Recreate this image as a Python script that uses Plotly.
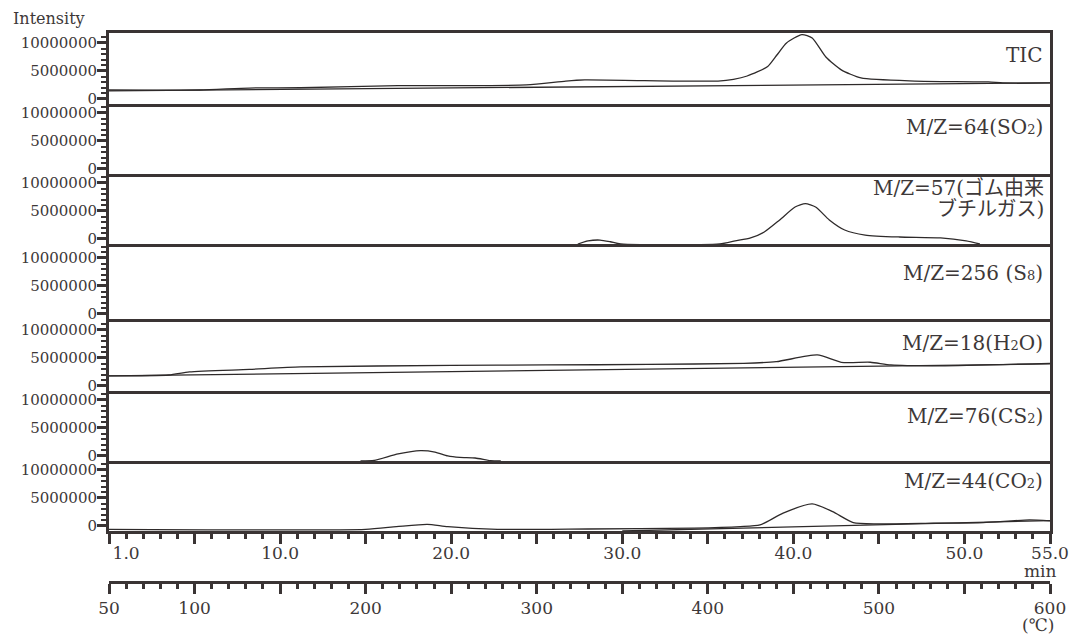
import plotly.graph_objects as go

# ---------------- data (time in min, intensity in counts) ----------------
t_tic = [0, 5.3, 8.2, 11.2, 16.9, 24.4, 26.7, 27.8, 31.3, 35.6, 36.5, 37.3, 38.5, 39.05,
         39.6, 40.5, 41.1, 41.9, 42.8, 43.95, 47.1, 51.4, 52.25, 55]
v_tic = [1.6e6, 1.6e6, 1.95e6, 2.0e6, 2.37e6, 2.5e6, 3.2e6, 3.4e6, 3.27e6, 3.2e6, 3.5e6,
         4.1e6, 5.8e6, 7.9e6, 10.0e6, 11.5e6, 10.9e6, 7.5e6, 5.2e6, 3.75e6, 3.2e6, 3.04e6,
         2.86e6, 2.86e6]
t_tic_base = [0, 55]
v_tic_base = [1.45e6, 2.86e6]

t_57 = [27.4, 28.0, 28.7, 29.3, 29.9, 35.7, 36.6, 37.5, 38.3, 39.2, 40.1, 40.7, 41.3,
        42.1, 43.0, 44.2, 46.2, 48.6, 50.1, 50.9]
v_57 = [-0.9e6, -0.35e6, -0.2e6, -0.5e6, -0.9e6, -0.9e6, -0.35e6, 0.2e6, 1.25e6, 3.4e6,
        5.7e6, 6.3e6, 5.7e6, 3.4e6, 1.6e6, 0.7e6, 0.35e6, 0.2e6, -0.35e6, -0.9e6]

t_18 = [0, 3.5, 4.7, 8.2, 11.2, 20, 25.5, 31.5, 37.1, 39.0, 41.4, 42.8, 44.5, 45.7, 48.6, 55]
v_18 = [1.79e6, 1.96e6, 2.5e6, 2.95e6, 3.4e6, 3.66e6, 3.75e6, 3.84e6, 4.05e6, 4.34e6,
        5.54e6, 4.23e6, 4.23e6, 3.75e6, 3.6e6, 4.05e6]
t_18_base = [0, 55]
v_18_base = [1.79e6, 3.93e6]

t_76 = [14.7, 15.5, 16.9, 18.2, 19.05, 19.8, 20.5, 21.4, 22.3, 22.9]
v_76 = [-0.9e6, -0.8e6, 0.36e6, 0.95e6, 0.7e6, 0.0, -0.27e6, -0.36e6, -0.84e6, -0.9e6]

t_44 = [0, 15.0, 16.8, 18.6, 19.8, 22.7, 28.0, 34.2, 36.9, 38.05, 39.4, 41.1, 42.3,
        43.5, 44.9, 48.2, 51.1, 53.8, 55]
v_44 = [-0.6e6, -0.6e6, -0.12e6, 0.3e6, -0.12e6, -0.6e6, -0.54e6, -0.4e6, -0.12e6,
        0.18e6, 2.3e6, 3.93e6, 2.55e6, 0.6e6, 0.36e6, 0.48e6, 0.6e6, 1.07e6, 0.9e6]
t_44_base = [30, 55]
v_44_base = [-0.9e6, 0.95e6]

y_tickvals = [0, 5000000, 10000000]
y_ticktext = ["0", "5000000", "10000000"]
x_major = list(range(0, 56, 5))
x_label_vals = [1, 10, 20, 30, 40, 50, 55]
x_label_text = ["1.0", "10.0", "20.0", "30.0", "40.0", "50.0", "55.0"]
temp_major = [50, 100, 150, 200, 250, 300, 350, 400, 450, 500, 550, 600]
temp_text = ["50", "100", "", "200", "", "300", "", "400", "", "500", "", "600"]

panel_labels = ["TIC", "M/Z=64(SO<span style='font-size:13px'>2</span>)", None,
                "M/Z=256 (S<span style='font-size:13px'>8</span>)",
                "M/Z=18(H<span style='font-size:13px'>2</span>O)",
                "M/Z=76(CS<span style='font-size:13px'>2</span>)",
                "M/Z=44(CO<span style='font-size:13px'>2</span>)"]

# ---------------- layout geometry ----------------
W, H = 1072, 635
PL, PR, PT, PB = 109, 1050, 33, 582
edges = [33, 104, 174, 244, 319, 391, 461, 531]
PX_PER_UNIT = 5.6 / 1e6
YMIN = -0.9e6

def fy(py):
    return (PB - py) / (PB - PT)

def fx(px):
    return (px - PL) / (PR - PL)

DARK = "#3a3434"
TXT = "#3d3838"
SERIF = "DejaVu Serif, Noto Sans CJK JP"

def ax(p):
    return "" if p == 1 else str(p)

fig = go.Figure()
line_style = dict(color="#2e2a2a", width=1.3, shape="spline", smoothing=0.6)
straight = dict(color="#2e2a2a", width=1.3)

series = [
    (1, t_tic, v_tic, True), (1, t_tic_base, v_tic_base, False),
    (3, t_57, v_57, True),
    (5, t_18, v_18, True), (5, t_18_base, v_18_base, False),
    (6, t_76, v_76, True),
    (7, t_44, v_44, True), (7, t_44_base, v_44_base, False),
]
for p, tx, vy, curved in series:
    fig.add_trace(go.Scatter(x=tx, y=vy, mode="lines",
                             line=line_style if curved else straight,
                             xaxis="x" + ax(p), yaxis="y" + ax(p),
                             showlegend=False, hoverinfo="skip"))

# invisible helper traces so that empty panels and the extra axes get drawn
for xa_name, ya_name, xs in [("x2", "y2", x_label_vals), ("x4", "y4", x_label_vals),
                             ("x8", "y7", x_label_vals), ("x9", "y7", temp_major)]:
    fig.add_trace(go.Scatter(x=xs, mode="markers", marker=dict(opacity=0, size=1),
                             xaxis=xa_name, yaxis=ya_name, showlegend=False,
                             hoverinfo="skip"))

layout = dict(width=W, height=H, autosize=False,
              margin=dict(l=PL, r=W - PR, t=PT, b=H - PB, pad=0),
              paper_bgcolor="white", plot_bgcolor="white",
              font=dict(family=SERIF, color=TXT), showlegend=False)

for i in range(1, 8):
    top, bot = edges[i - 1], edges[i]
    sfx = ax(i)
    layout["yaxis" + sfx] = dict(
        domain=[fy(bot), fy(top)], anchor="x" + sfx, automargin=False,
        range=[YMIN, YMIN + (bot - top) / PX_PER_UNIT],
        showline=True, linewidth=3, linecolor=DARK, mirror=True,
        ticks="outside", ticklen=9, tickwidth=2.5, tickcolor=DARK,
        tickvals=y_tickvals, ticktext=y_ticktext, ticklabelstandoff=-3,
        tickfont=dict(size=15, family=SERIF, color=TXT),
        minor=dict(dtick=1e6, tick0=0, ticks="outside", ticklen=5, tickwidth=2, tickcolor=DARK),
        showgrid=False, zeroline=False, fixedrange=True)
    xa = dict(domain=[0, 1], anchor="y" + sfx, range=[0, 55], automargin=False,
              showline=True, linewidth=3, linecolor=DARK, mirror=(i == 1),
              showgrid=False, zeroline=False, fixedrange=True)
    if i < 7:
        xa.update(ticks="", showticklabels=False)
    else:
        xa.update(ticks="outside", tickvals=x_major, ticklen=10, tickwidth=2.5,
                  tickcolor=DARK, showticklabels=False,
                  minor=dict(dtick=1, tick0=0, ticks="outside", ticklen=5, tickwidth=2.5,
                             tickcolor=DARK))
    layout["xaxis" + sfx] = xa

# time labels overlay
layout["xaxis8"] = dict(overlaying="x7", anchor="y7", side="bottom", range=[0, 55],
                        automargin=False,
                        tickvals=x_label_vals, ticktext=x_label_text, ticks="outside",
                        ticklen=10, tickcolor="rgba(0,0,0,0)", showline=False,
                        ticklabelstandoff=-3,
                        showgrid=False, zeroline=False, fixedrange=True,
                        tickfont=dict(size=17, family=SERIF, color=TXT))
# temperature axis
layout["xaxis9"] = dict(overlaying="x7", anchor="free", position=0, side="bottom",
                        range=[50, 600], automargin=False,
                        showline=True, linewidth=3, linecolor=DARK,
                        tickvals=temp_major, ticktext=temp_text, ticks="outside",
                        ticklen=10, tickwidth=2.5, tickcolor=DARK,
                        minor=dict(dtick=10, tick0=50, ticks="outside", ticklen=5,
                                   tickwidth=2.5, tickcolor=DARK),
                        showgrid=False, zeroline=False, fixedrange=True,
                        tickfont=dict(size=17, family=SERIF, color=TXT))

annotations = []
label_y = [55, 127, None, 273, 343, 416, 481]
for lab, py in zip(panel_labels, label_y):
    if lab is None:
        continue
    annotations.append(dict(text=lab, xref="paper", yref="paper", x=fx(1045), y=fy(py),
                            xanchor="right", yanchor="middle", showarrow=False,
                            font=dict(size=20, family=SERIF, color=TXT)))
annotations.append(dict(text="M/Z=57(ゴム由来", xref="paper", yref="paper", x=fx(1046),
                        y=fy(188), xanchor="right", yanchor="middle", showarrow=False,
                        font=dict(size=20, family=SERIF, color=TXT)))
annotations.append(dict(text="ブチルガス)", xref="paper", yref="paper", x=fx(1046),
                        y=fy(209), xanchor="right", yanchor="middle", showarrow=False,
                        font=dict(size=20, family=SERIF, color=TXT)))
annotations.append(dict(text="Intensity", xref="paper", yref="paper", x=fx(11), y=fy(19),
                        xanchor="left", yanchor="middle", showarrow=False,
                        font=dict(size=16, family=SERIF, color=TXT)))
annotations.append(dict(text="min", xref="paper", yref="paper", x=fx(1040), y=fy(571),
                        xanchor="center", yanchor="middle", showarrow=False,
                        font=dict(size=17, family=SERIF, color=TXT)))
annotations.append(dict(text="(℃)", xref="paper", yref="paper", x=fx(1038), y=fy(625),
                        xanchor="center", yanchor="middle", showarrow=False,
                        font=dict(size=17, family=SERIF, color=TXT)))
layout["annotations"] = annotations

fig.update_layout(**layout)
fig.write_html("out.html")
